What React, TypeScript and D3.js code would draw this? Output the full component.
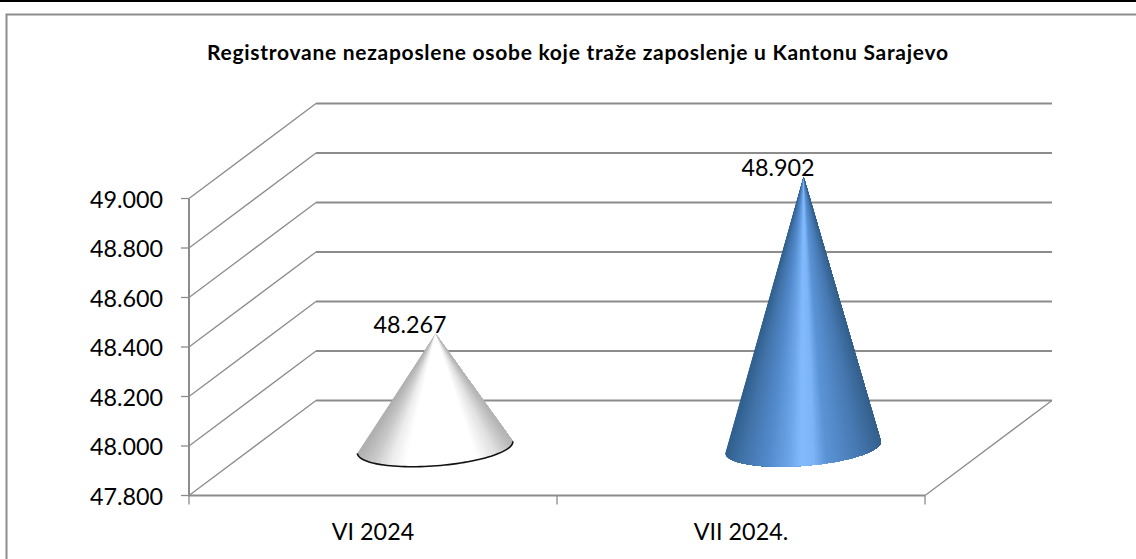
import React from "react";
import * as d3 from "d3";

const titleText = "Registrovane nezaposlene osobe koje traže zaposlenje u Kantonu Sarajevo";
const categories = ["VI 2024", "VII 2024."];
const values = [48267, 48902];
const valueLabels = ["48.267", "48.902"];
const yTicks = [47800, 48000, 48200, 48400, 48600, 48800, 49000];
const yTickLabels = ["47.800", "48.000", "48.200", "48.400", "48.600", "48.800", "49.000"];
const whiteShades: [number, string][] = [
  [0, "#b0b0b0"], [0.1, "#cacaca"], [0.2, "#ececec"], [0.3, "#ffffff"],
  [0.76, "#ffffff"], [0.88, "#e2e2e2"], [1, "#b4b4b4"],
];
const blueShades: [number, string][] = [
  [0, "#31608f"], [0.1, "#4273a8"], [0.26, "#5289cb"], [0.4, "#6ca6e8"], [0.48, "#82bbff"],
  [0.56, "#7cb4f6"], [0.64, "#5b94d6"], [0.85, "#4779b2"], [1, "#34608c"],
];
const shades = [whiteShades, blueShades];
const rims = ["#111111", "none"];

const W = 1136, H = 559;
const FRONT_LEFT = 189, FRONT_RIGHT = 925, FRONT_BOTTOM = 495.5, FRONT_TOP = 198.5;
const DX = 127, DY = -95;
const GRID = "#8c8c8c";
const FONT = "Lato, Carlito, Calibri, sans-serif";

const y = d3.scaleLinear().domain([47800, 49000]).range([FRONT_BOTTOM, FRONT_TOP]);
const x = d3.scaleBand().domain(categories).range([FRONT_LEFT, FRONT_RIGHT]);

function shadeAt(stops: [number, string][], f: number) {
  const s = d3.scaleLinear<string>().domain(stops.map(d => d[0])).range(stops.map(d => d[1]));
  return s(f);
}

function Cone({ i }: { i: number }) {
  const cat = categories[i];
  const cx0 = x(cat)! + x.bandwidth() / 2;
  const apexX = cx0 + DX * 0.493;
  const apexY = y(values[i]) + DY * 0.485;
  const baseX = cx0 + DX * 0.489;
  const baseY = y(47800) + DY * 0.507;
  const rx = 78, ry = 18.5;
  const rot = (-4.4 * Math.PI) / 180;
  const pt = (t: number): [number, number] => {
    const ex = -rx * Math.cos(t), ey = ry * Math.sin(t);
    return [baseX + ex * Math.cos(rot) - ey * Math.sin(rot), baseY + ex * Math.sin(rot) + ey * Math.cos(rot)];
  };
  const N = 90;
  const line = d3.line();
  const slices = d3.range(N).map(k => {
    const tm = ((k + 0.5) / N) * Math.PI;
    const f = (1 - Math.cos(tm)) / 2;
    const pts: [number, number][] = [[apexX, apexY]];
    for (let j = k; j <= N; j++) pts.push(pt((j / N) * Math.PI));
    return { d: line(pts)! + "Z", c: shadeAt(shades[i], f) };
  });
  const rim = line(d3.range(0, 61).map(k => pt((k / 60) * Math.PI)))!;
  return (
    <g>
      {slices.map((s, k) => (
        <path key={k} d={s.d} fill={s.c} />
      ))}
      {rims[i] !== "none" && <path d={rim} fill="none" stroke={rims[i]} strokeWidth={1.6} />}
      <text x={apexX - 25.5} y={apexY - 1} textAnchor="middle" fontFamily={FONT} fontSize={23.3} fill="#000">
        {valueLabels[i]}
      </text>
    </g>
  );
}

export default function App() {
  return (
    <svg width={W} height={H} style={{ position: "fixed", left: 0, top: 0, background: "#fff" }}>
      <rect x={0} y={0} width={W} height={2} fill="#000" />
      <path d={`M${W},14.5H6.5V${H}`} fill="none" stroke="#8c8c8c" strokeWidth={2} />
      <text x={577.5} y={60} textAnchor="middle" fontFamily={FONT} fontWeight={700} fontSize={21} textLength={741} lengthAdjust="spacing" fill="#000">
        {titleText}
      </text>
      {yTicks.map((t, i) => (
        <g key={t}>
          <path d={`M${FRONT_LEFT - 8},${y(t)}H${FRONT_LEFT}`} stroke={GRID} strokeWidth={1.3} fill="none" />
          <path d={`M${FRONT_LEFT},${y(t)}L${FRONT_LEFT + DX},${y(t) + DY}`} stroke={GRID} strokeWidth={1.3} fill="none" />
          <path d={`M${FRONT_LEFT + DX},${y(t) + DY}H${FRONT_RIGHT + DX}`} stroke={GRID} strokeWidth={2} fill="none" />
          <text x={163} y={y(t) + 9} textAnchor="end" fontFamily={FONT} fontSize={23.3} fill="#000">
            {yTickLabels[i]}
          </text>
        </g>
      ))}
      <path d={`M${FRONT_LEFT},${FRONT_TOP}V${FRONT_BOTTOM}H${FRONT_RIGHT}`} stroke={GRID} strokeWidth={2} fill="none" />
      <path d={`M${FRONT_RIGHT},${FRONT_BOTTOM}L${FRONT_RIGHT + DX},${FRONT_BOTTOM + DY}`} stroke={GRID} strokeWidth={1.3} fill="none" />
      {[...categories.map(c => x(c)!), FRONT_RIGHT].map(v => (
        <path key={v} d={`M${v},${FRONT_BOTTOM}V${FRONT_BOTTOM + 9}`} stroke={GRID} strokeWidth={1.3} fill="none" />
      ))}
      {categories.map(c => (
        <text key={c} x={x(c)! + x.bandwidth() / 2} y={540} textAnchor="middle" fontFamily={FONT} fontSize={23.3} fill="#000">
          {c}
        </text>
      ))}
      {categories.map((c, i) => <Cone key={c} i={i} />)}
    </svg>
  );
}
